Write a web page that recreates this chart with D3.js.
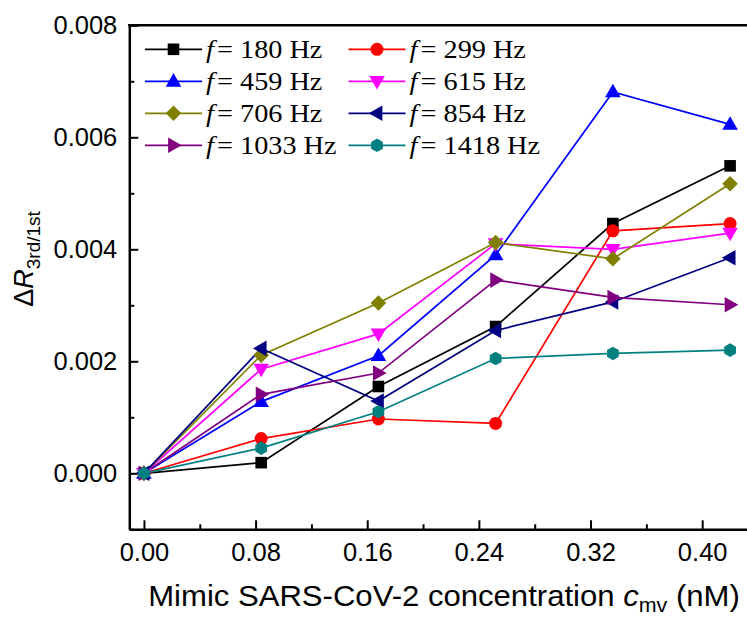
<!DOCTYPE html>
<html>
<head>
<meta charset="utf-8">
<script src="https://cdn.jsdelivr.net/npm/d3@7"></script>
<style>
  body { margin: 0; background: #fff; }
  svg { display: block; }
</style>
</head>
<body>
<svg id="chart"></svg>
<script>
// concentration steps (nM)
const concentrations = [0, 0.084, 0.168, 0.252, 0.336, 0.42];

const frequencies = ["180", "299", "459", "615", "706", "854", "1033", "1418"];
const colors = ["#000000", "#ff0000", "#0000ff", "#ff00ff", "#808000", "#000080", "#800080", "#008080"];
const shapes = ["square", "circle", "triUp", "triDown", "diamond", "triLeft", "triRight", "hexagon"];

const dR180  = [0, 0.00019, 0.00155, 0.00262, 0.00446, 0.00549];
const dR299  = [0, 0.00062, 0.00097, 0.00089, 0.00433, 0.00446];
const dR459  = [0, 0.00128, 0.00210, 0.00390, 0.00681, 0.00623];
const dR615  = [0, 0.00186, 0.00249, 0.00410, 0.00400, 0.00429];
const dR706  = [0, 0.00211, 0.00304, 0.00412, 0.00383, 0.00517];
const dR854  = [0, 0.00223, 0.00129, 0.00255, 0.00306, 0.00385];
const dR1033 = [0, 0.00141, 0.00179, 0.00345, 0.00314, 0.00301];
const dR1418 = [0, 0.00045, 0.00110, 0.00205, 0.00214, 0.00220];
const seriesValues = [dR180, dR299, dR459, dR615, dR706, dR854, dR1033, dR1418];

const xTicks = [0, 0.08, 0.16, 0.24, 0.32, 0.40];
const xMinorTicks = [0.04, 0.12, 0.20, 0.28, 0.36];
const yTicks = [0, 0.002, 0.004, 0.006, 0.008];
const yMinorTicks = [-0.001, 0.001, 0.003, 0.005, 0.007];

var width = 747, height = 617;
var mLeft = 129.3, mRight = 758, mTop = 25.3, mBottom = 529.3;

var svg = d3.select("#chart").attr("width", width).attr("height", height);

var x = d3.scaleLinear().domain([-0.0105, 0.44]).range([mLeft, mRight]);
var y = d3.scaleLinear().domain([-0.001, 0.008]).range([mBottom, mTop]);

// marker outlines
function markerPath(shape) {
  var p = d3.path();
  if (shape == "square") { p.rect(-5.8, -5.8, 11.6, 11.6); }
  else if (shape == "circle") { p.arc(0, 0, 6.5, 0, 2 * Math.PI); }
  else if (shape == "diamond") { p.moveTo(0, -7.8); p.lineTo(7.8, 0); p.lineTo(0, 7.8); p.lineTo(-7.8, 0); p.closePath(); }
  else if (shape == "hexagon") {
    for (var i = 0; i < 6; i++) {
      var a = Math.PI / 6 + i * Math.PI / 3;
      if (i == 0) p.moveTo(6.8 * Math.cos(a), 6.8 * Math.sin(a)); else p.lineTo(6.8 * Math.cos(a), 6.8 * Math.sin(a));
    }
    p.closePath();
  } else {
    p.moveTo(0, -8.2); p.lineTo(7.8, 5.4); p.lineTo(-7.8, 5.4); p.closePath();
  }
  return p.toString();
}
function markerRotate(shape) {
  if (shape == "triDown") return 180;
  if (shape == "triLeft") return -90;
  if (shape == "triRight") return 90;
  return 0;
}

// stretch a text horizontally to a target width, around anchor ax
function fitWidth(sel, targetW, ax) {
  var w = sel.node().getBBox().width;
  var s = targetW / w;
  sel.attr("transform", "translate(" + ax + ",0) scale(" + s + ",1) translate(" + (-ax) + ",0)");
  return s;
}

// axes
svg.append("g").attr("transform", "translate(0," + mBottom + ")")
  .call(d3.axisBottom(x).tickValues(xTicks).tickFormat(d3.format(".2f")).tickSizeInner(-9).tickSizeOuter(0).tickPadding(14));
svg.append("g").attr("transform", "translate(0," + mBottom + ")")
  .call(d3.axisBottom(x).tickValues(xMinorTicks).tickFormat("").tickSizeInner(-5).tickSizeOuter(0))
  .select(".domain").remove();

svg.append("g").attr("transform", "translate(" + mLeft + ",0)")
  .call(d3.axisLeft(y).tickValues(yTicks).tickFormat(d3.format(".3f")).tickSizeInner(-9).tickSizeOuter(0).tickPadding(12));
svg.append("g").attr("transform", "translate(" + mLeft + ",0)")
  .call(d3.axisLeft(y).tickValues(yMinorTicks).tickFormat("").tickSizeInner(-5).tickSizeOuter(0))
  .select(".domain").remove();

svg.selectAll(".domain").attr("stroke", "#000").attr("stroke-width", 2.5);
svg.selectAll(".tick line").attr("stroke", "#000").attr("stroke-width", 2);
svg.selectAll(".tick text").attr("fill", "#000")
  .style("font-family", "'Liberation Sans', Arial, sans-serif").style("font-size", "25.5px");

// top frame
svg.append("line").attr("x1", mLeft - 1.2).attr("x2", mRight).attr("y1", mTop).attr("y2", mTop)
  .attr("stroke", "#000").attr("stroke-width", 2.5);

// lines and markers
var line = d3.line().x((d, i) => x(concentrations[i])).y(d => y(d));
var plot = svg.append("g");
seriesValues.forEach(function (vals, k) {
  plot.append("path").datum(vals).attr("d", line)
    .attr("fill", "none").attr("stroke", colors[k]).attr("stroke-width", 1.7);
});
seriesValues.forEach(function (vals, k) {
  plot.selectAll(null).data(vals).enter().append("path")
    .attr("d", markerPath(shapes[k]))
    .attr("transform", (d, i) => "translate(" + x(concentrations[i]) + "," + y(d) + ") rotate(" + markerRotate(shapes[k]) + ")")
    .attr("fill", colors[k]);
});

// legend
var legend = svg.append("g").style("font-family", "'Liberation Serif', 'Times New Roman', serif").style("font-size", "26px");
var legendScale = null;
frequencies.forEach(function (f, k) {
  var col = k % 2, row = Math.floor(k / 2);
  var lx = col == 0 ? 145 : 348.5;
  var ly = 49.3 + row * 32;
  legend.append("line").attr("x1", lx).attr("x2", lx + 57).attr("y1", ly).attr("y2", ly)
    .attr("stroke", colors[k]).attr("stroke-width", 1.7);
  legend.append("path").attr("d", markerPath(shapes[k]))
    .attr("transform", "translate(" + (lx + 28.5) + "," + ly + ") rotate(" + markerRotate(shapes[k]) + ")")
    .attr("fill", colors[k]);
  var tx = lx + 61;
  var t = legend.append("text").attr("x", tx).attr("y", ly + 8.5);
  t.append("tspan").style("font-style", "italic").text("f");
  t.append("tspan").attr("dx", 3).text("= " + f + " Hz");
  if (legendScale === null) legendScale = fitWidth(t, 116.5, tx);
  else t.attr("transform", "translate(" + tx + ",0) scale(" + legendScale + ",1) translate(" + (-tx) + ",0)");
});

// axis titles
var cx = 444;
var xt = svg.append("text").attr("x", cx).attr("y", 606).attr("text-anchor", "middle")
  .style("font-family", "'Liberation Sans', Arial, sans-serif").style("font-size", "29px");
xt.append("tspan").text("Mimic SARS-CoV-2 concentration ");
xt.append("tspan").style("font-style", "italic").text("c");
xt.append("tspan").attr("dy", 6).style("font-size", "20px").text("mv");
xt.append("tspan").attr("dy", -6).text(" (nM)");
fitWidth(xt, 592, cx);

var yt = svg.append("text").attr("transform", "translate(33,259) rotate(-90)").attr("text-anchor", "middle")
  .style("font-family", "'Liberation Sans', Arial, sans-serif").style("font-size", "27px");
yt.append("tspan").text("\u0394");
yt.append("tspan").style("font-style", "italic").text("R");
yt.append("tspan").attr("dy", 7).style("font-size", "19px").text("3rd/1st");
</script>
</body>
</html>
